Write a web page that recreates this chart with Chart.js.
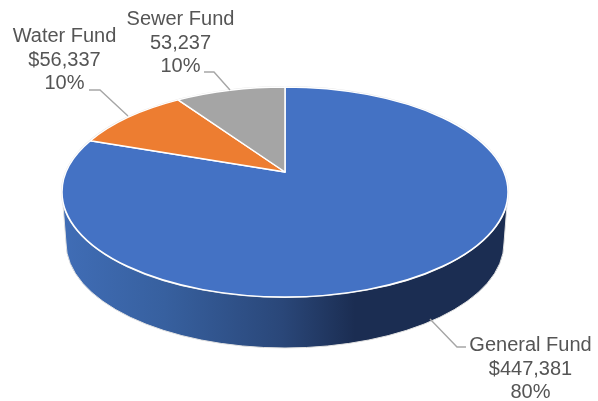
<!DOCTYPE html>
<html>
<head>
<meta charset="utf-8">
<style>
  html, body { margin: 0; padding: 0; background: #fff; }
  #wrap { width: 598px; height: 401px; }
</style>
<script src="https://cdn.jsdelivr.net/npm/chart.js@4"></script>
</head>
<body>
<div id="wrap"><canvas id="fund-pie" width="598" height="401"></canvas></div>
<script>
const categories    = ['General Fund', 'Water Fund', 'Sewer Fund'];
const fundValues    = [447381, 56337, 53237];
const valueLabels   = ['$447,381', '$56,337', '53,237'];
const percentLabels = ['80%', '10%', '10%'];
const sliceColors   = ['#4472c4', '#ed7d31', '#a5a5a5'];

// Excel 3D pie: top face is an ellipse, apex sits above the ellipse centre
const top3d = { cx: 285, cy: 192, rx: 223, ry: 105, apexY: 172 };
const bottom3d = { cx: 285, cy: 243, rx: 219, ry: 105 };

// where each label block and its leader line go
const labelSpots = [
    { x: 530.5, y: 345, leader: [[430, 319], [457, 347], [466, 347]] },
    { x: 64.5,  y: 36,  leader: [[89, 90], [100, 90], [128, 116]] },
    { x: 180.5, y: 19,  leader: [[204, 72], [214, 72], [230, 90]] }
];

// arc angle -> parameter on the top ellipse, perspective moves the centre up
function ellipseParam(angle) {
    const d = (top3d.cy - top3d.apexY) / top3d.ry;
    const t = angle + Math.PI / 2;
    const x = Math.sin(t), y = Math.cos(t);
    const w = 1 + d * y;
    return Math.atan2(-(y + d) / w, x * Math.sqrt(1 - d * d) / w);
}

const pie3dPlugin = {
    id: 'pie3d',
    beforeDatasetsDraw(chart) {
        const ctx = chart.ctx;
        const arcs = chart.getDatasetMeta(0).data;

        // side wall, only the big slice shows at the front
        const grad = ctx.createLinearGradient(top3d.cx - top3d.rx, 0, 355, 0);
        grad.addColorStop(0, '#406db6');
        grad.addColorStop(0.35, '#37609f');
        grad.addColorStop(0.75, '#2a4779');
        grad.addColorStop(1, '#1b2d52');
        ctx.save();
        ctx.beginPath();
        ctx.moveTo(top3d.cx + top3d.rx, top3d.cy);
        ctx.ellipse(bottom3d.cx, bottom3d.cy, bottom3d.rx, bottom3d.ry, 0, 0, Math.PI);
        ctx.lineTo(top3d.cx - top3d.rx, top3d.cy);
        ctx.closePath();
        ctx.fillStyle = grad;
        ctx.fill();
        ctx.strokeStyle = '#e2e2e2';
        ctx.lineWidth = 1;
        ctx.stroke();

        // halo round the top face
        ctx.beginPath();
        ctx.ellipse(top3d.cx, top3d.cy, top3d.rx, top3d.ry, 0, 0, Math.PI * 2);
        ctx.strokeStyle = '#e2e2e2';
        ctx.lineWidth = 2;
        ctx.stroke();

        arcs.forEach((arc, i) => {
            const a0 = ellipseParam(arc.startAngle);
            const a1 = ellipseParam(arc.endAngle);
            ctx.beginPath();
            ctx.moveTo(top3d.cx, top3d.apexY);
            ctx.ellipse(top3d.cx, top3d.cy, top3d.rx, top3d.ry, 0, a0, a1);
            ctx.closePath();
            ctx.fillStyle = arc.options.backgroundColor;
            ctx.fill();
            ctx.strokeStyle = '#ffffff';
            ctx.lineWidth = 1.5;
            ctx.lineJoin = 'round';
            ctx.stroke();
        });
        ctx.restore();
        return false;
    },
    afterDraw(chart) {
        const ctx = chart.ctx;
        ctx.save();
        ctx.strokeStyle = '#a6a6a6';
        ctx.lineWidth = 1.4;
        ctx.fillStyle = '#555555';
        ctx.font = '20px "Liberation Sans", Arial, sans-serif';
        ctx.textAlign = 'center';
        ctx.textBaseline = 'middle';
        labelSpots.forEach((spot, i) => {
            ctx.beginPath();
            spot.leader.forEach((p, k) => k ? ctx.lineTo(p[0], p[1]) : ctx.moveTo(p[0], p[1]));
            ctx.stroke();
            ctx.fillText(categories[i], spot.x, spot.y);
            ctx.fillText(valueLabels[i], spot.x, spot.y + 24);
            ctx.fillText(percentLabels[i], spot.x, spot.y + 47.5);
        });
        ctx.restore();
    }
};

new Chart(document.getElementById('fund-pie'), {
    type: 'pie',
    data: {
        labels: categories,
        datasets: [{ data: fundValues, backgroundColor: sliceColors, borderColor: '#ffffff' }]
    },
    options: {
        responsive: false,
        animation: false,
        plugins: { legend: { display: false }, tooltip: { enabled: false } }
    },
    plugins: [pie3dPlugin]
});
</script>
</body>
</html>
